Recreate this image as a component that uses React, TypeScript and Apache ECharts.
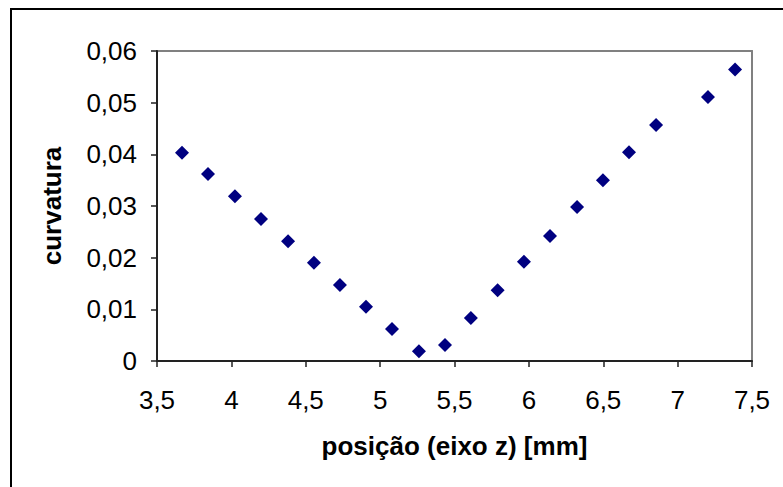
import React, { useEffect, useRef } from "react";
import * as echarts from "echarts";

const posicao = [3.668, 3.843, 4.024, 4.199, 4.381, 4.555, 4.730, 4.905, 5.080, 5.261, 5.436, 5.610, 5.790, 5.967, 6.142, 6.324, 6.498, 6.673, 6.855, 7.204, 7.386];
const curvatura = [0.0403, 0.0362, 0.0319, 0.0275, 0.0232, 0.0190, 0.0147, 0.0105, 0.0062, 0.0019, 0.0031, 0.0083, 0.0137, 0.0192, 0.0242, 0.0298, 0.0350, 0.0404, 0.0457, 0.0511, 0.0564];

const fmt = (v: number, d: number) => (v === 0 ? "0" : v.toFixed(d).replace(".", ","));

export default function App() {
  const ref = useRef<HTMLDivElement>(null);
  useEffect(() => {
    if (!ref.current) return;
    const chart = echarts.init(ref.current, null, { renderer: "svg" });
    const font = "Arial";
    const fs = 26;
    const frameAxis = {
      type: "value",
      axisLine: { show: true, onZero: false, lineStyle: { color: "#808080", width: 2 } },
      axisTick: { show: false },
      axisLabel: { show: false },
      splitLine: { show: false },
    };
    chart.setOption({
      animation: false,
      backgroundColor: "#ffffff",
      graphic: [
        {
          type: "rect",
          shape: { x: 11, y: 9, width: 800, height: 500 },
          style: { fill: "none", stroke: "#000", lineWidth: 2 },
          silent: true,
        },
      ],
      grid: { left: 157, top: 51, right: 31, bottom: 126 },
      xAxis: [
        {
          type: "value",
          min: 3.5,
          max: 7.5,
          interval: 0.5,
          name: "posição (eixo z) [mm]",
          nameLocation: "middle",
          nameGap: 72,
          nameTextStyle: { fontSize: fs, fontWeight: "bold", color: "#000", fontFamily: font },
          axisLine: { show: true, onZero: false, lineStyle: { color: "#222", width: 2 } },
          axisTick: { show: true, inside: false, length: 6, lineStyle: { color: "#222", width: 1.5 } },
          axisLabel: {
            fontSize: fs,
            color: "#000",
            margin: 26,
            fontFamily: font,
            formatter: (v: number) => (Number.isInteger(v) ? String(v) : fmt(v, 1)),
          },
          splitLine: { show: false },
          z: 3,
        },
        { ...frameAxis, position: "top", min: 3.5, max: 7.5, z: 1 },
      ],
      yAxis: [
        {
          type: "value",
          min: 0,
          max: 0.06,
          interval: 0.01,
          name: "curvatura",
          nameLocation: "middle",
          nameGap: 92,
          nameRotate: 90,
          nameTextStyle: { fontSize: fs, fontWeight: "bold", color: "#000", fontFamily: font },
          axisLine: { show: true, onZero: false, lineStyle: { color: "#222", width: 2 } },
          axisTick: { show: true, inside: false, length: 6, lineStyle: { color: "#222", width: 1.5 } },
          axisLabel: {
            fontSize: fs,
            color: "#000",
            margin: 20,
            fontFamily: font,
            formatter: (v: number) => fmt(v, 2),
          },
          splitLine: { show: false },
          z: 3,
        },
        { ...frameAxis, position: "right", min: 0, max: 0.06, z: 1 },
      ],
      series: [
        {
          type: "scatter",
          data: posicao.map((x, i) => [x, curvatura[i]]),
          symbol: "diamond",
          symbolSize: 14,
          itemStyle: { color: "#000080", opacity: 1 },
          z: 5,
        },
      ],
    });
    return () => chart.dispose();
  }, []);
  return (
    <div
      ref={ref}
      style={{ position: "fixed", left: 0, top: 0, width: 783, height: 487 }}
    />
  );
}
